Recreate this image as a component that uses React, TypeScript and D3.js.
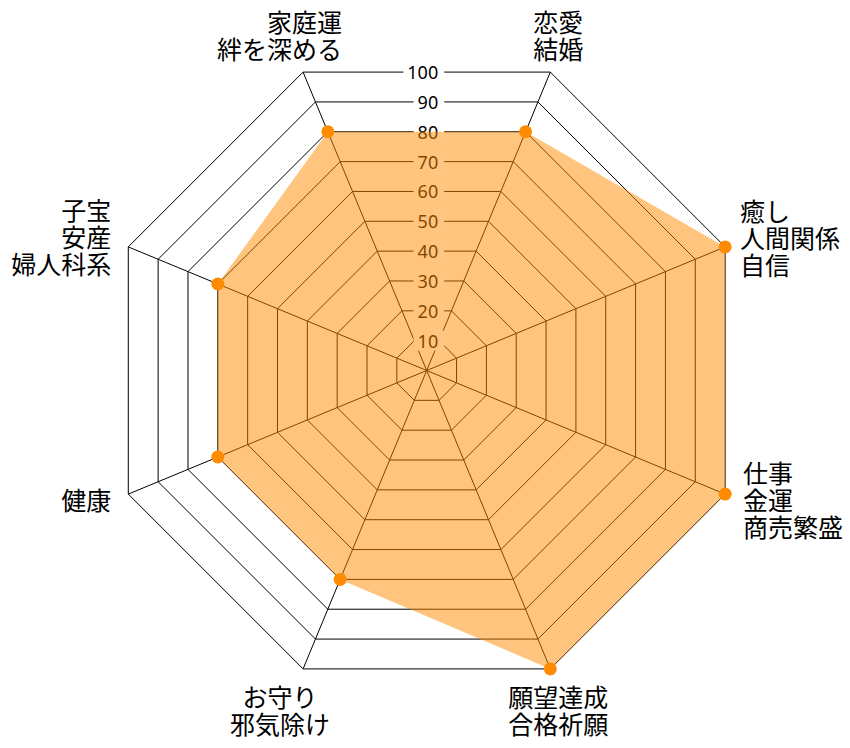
import React from "react";
import * as d3 from "d3";

const categories: string[][] = [
  ["恋愛", "結婚"],
  ["癒し", "人間関係", "自信"],
  ["仕事", "金運", "商売繁盛"],
  ["願望達成", "合格祈願"],
  ["お守り", "邪気除け"],
  ["健康"],
  ["子宝", "安産", "婦人科系"],
  ["家庭運", "絆を深める"],
];
const values: number[] = [80, 100, 100, 100, 70, 70, 70, 80];
const tickValues: number[] = [10, 20, 30, 40, 50, 60, 70, 80, 90, 100];

// label layout: text-anchor, dx from outer vertex, dy of block centre from outer vertex
const labelLayout: { anchor: string; dx: number; dy: number }[] = [
  { anchor: "start", dx: -17, dy: -38 },
  { anchor: "start", dx: 15, dy: -9.5 },
  { anchor: "start", dx: 18, dy: 5 },
  { anchor: "middle", dx: 8, dy: 41 },
  { anchor: "middle", dx: -23, dy: 41 },
  { anchor: "end", dx: -17, dy: 5 },
  { anchor: "end", dx: -17, dy: -10.5 },
  { anchor: "end", dx: 39, dy: -38 },
];

const W = 850;
const H = 748;
const cx = 426.7;
const cy = 370.5;
const R = 323;
const LINE = 27;
const FONT = "'Noto Sans CJK JP', 'Noto Sans', sans-serif";

export default function App() {
  const n = categories.length;
  const r = d3.scaleLinear().domain([0, 100]).range([0, R]);
  const angle = (i: number) => ((22.5 + (360 / n) * i) * Math.PI) / 180;
  const pt = (i: number, v: number): [number, number] => [
    cx + r(v) * Math.sin(angle(i)),
    cy - r(v) * Math.cos(angle(i)),
  ];
  const ring = (v: number) =>
    d3.line()(d3.range(n).map((i) => pt(i, v))) + "Z";
  const area = d3.line()(values.map((v, i) => pt(i, v))) + "Z";
  const apo = Math.cos(Math.PI / n);

  return (
    <svg
      width={W}
      height={H}
      style={{ position: "absolute", left: 0, top: 0, background: "#fff" }}
      fontFamily={FONT}
    >
      <rect width={W} height={H} fill="#fff" />
      <g fill="none" stroke="#000" strokeWidth={1}>
        {tickValues.map((t) => (
          <path key={t} d={ring(t)} />
        ))}
        {d3.range(n).map((i) => {
          const [x, y] = pt(i, 100);
          return <line key={i} x1={cx} y1={cy} x2={x} y2={y} />;
        })}
      </g>
      <g>
        {tickValues.map((t) => {
          const y = cy - r(t) * apo;
          const label = String(t);
          const w = label.length * 10.3;
          const xe = cx + 11.5;
          return (
            <g key={t}>
              <rect x={xe - w - 4} y={y - 10} width={w + 10} height={20} fill="#fff" />
              <text
                x={xe}
                y={y}
                textAnchor="end"
                dominantBaseline="central"
                fontSize={18}
                fontFamily="'Noto Sans', sans-serif"
                fill="#000"
              >
                {label}
              </text>
            </g>
          );
        })}
      </g>
      <path d={area} fill="rgba(255,140,0,0.5)" stroke="none" />
      <g fill="#ff8c00">
        {values.map((v, i) => {
          const [x, y] = pt(i, v);
          return <circle key={i} cx={x} cy={y} r={6.5} />;
        })}
      </g>
      <g fontSize={25} fill="#000">
        {categories.map((lines, i) => {
          const [vx, vy] = pt(i, 100);
          const L = labelLayout[i];
          const y0 = vy + L.dy - ((lines.length - 1) * LINE) / 2;
          return (
            <text key={i} textAnchor={L.anchor} dominantBaseline="central">
              {lines.map((s, k) => (
                <tspan key={k} x={vx + L.dx} y={y0 + k * LINE}>
                  {s}
                </tspan>
              ))}
            </text>
          );
        })}
      </g>
    </svg>
  );
}
